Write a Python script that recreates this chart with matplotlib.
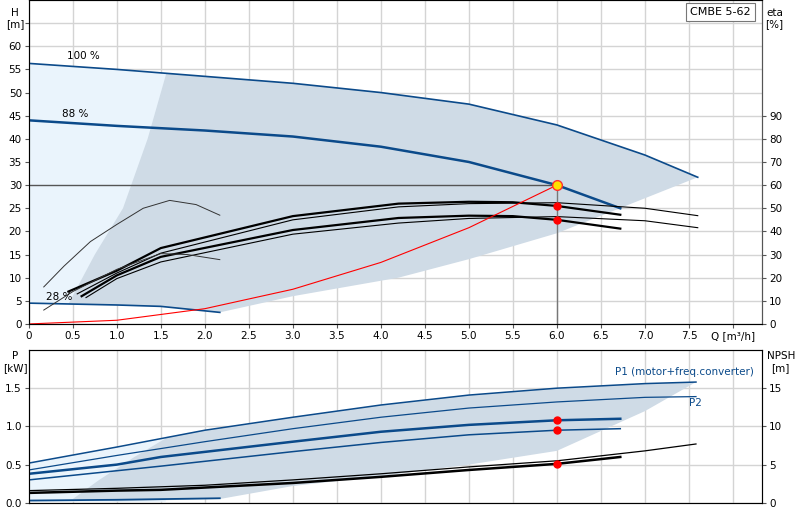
import matplotlib
matplotlib.use('Agg')
import matplotlib.pyplot as plt
import numpy as np

# ---- data ----
q100 = [0, 1, 2, 3, 4, 5, 6, 7, 7.6]
h100 = [56.3, 55.0, 53.5, 52.0, 50.0, 47.5, 43.0, 36.5, 31.7]
q88 = [0, 1, 2, 3, 4, 5, 6, 6.72]
h88 = [44.0, 42.8, 41.8, 40.5, 38.3, 35.0, 30.0, 25.0]
q28 = [0, 0.5, 1, 1.5, 2.17]
h28 = [4.5, 4.3, 4.1, 3.8, 2.5]

# operating-range boundaries (H)
left_q = [0.45, 0.75, 1.07, 1.35, 1.56]
left_h = [4.3, 15, 25, 40, 54]
low_q = [2.17, 3, 4.2, 5, 6, 7.6]
low_h = [2.5, 6, 10, 14, 19.6, 31.7]

# efficiency curves (eta/2 plotted on H axis)
eff_q = [[0.45, 1, 1.5, 3, 4.2, 5, 5.5, 6, 6.72],
         [0.55, 1, 1.5, 3, 4.2, 5, 6, 7, 7.6],
         [0.6, 1, 1.5, 3, 4.2, 5, 5.5, 6, 6.72],
         [0.65, 1, 1.5, 3, 4.2, 5, 6, 7, 7.6]]
eff_h = [[7, 11.5, 16.4, 23.3, 26.0, 26.4, 26.3, 25.5, 23.6],
         [6.5, 11, 15.3, 22.5, 25.3, 26.0, 26.2, 25.0, 23.4],
         [6, 10.5, 14.5, 20.3, 22.9, 23.4, 23.3, 22.5, 20.6],
         [5.7, 9.8, 13.4, 19.4, 21.8, 22.8, 23.2, 22.3, 20.8]]
eff_lw = [1.6, 0.8, 1.6, 0.8]
arc_big_q = [0.17, 0.4, 0.7, 1.0, 1.3, 1.6, 1.9, 2.17]
arc_big_h = [8, 12.5, 17.8, 21.5, 25, 26.7, 25.8, 23.5]
arc_small_q = [0.17, 0.5, 1.0, 1.5, 1.8, 2.17]
arc_small_h = [3, 7, 11.8, 15.2, 15.0, 13.9]

sys_q = [0, 1, 2, 3, 4, 5, 6]
sys_h = [0, 0.8, 3.3, 7.5, 13.3, 20.8, 30.0]
duty_q, duty_h = 6.0, 30.0
duty_eta_h = [25.5, 22.5]

# power curves
qp = [0, 1, 2, 3, 4, 5, 6, 7, 7.58]
p1_100 = [0.52, 0.73, 0.95, 1.12, 1.28, 1.41, 1.50, 1.56, 1.58]
p2_100 = [0.43, 0.62, 0.80, 0.97, 1.12, 1.24, 1.32, 1.38, 1.39]
qp88 = [0, 1, 1.5, 3, 4, 5, 6, 6.72]
p1_88 = [0.38, 0.50, 0.60, 0.80, 0.93, 1.02, 1.08, 1.10]
p2_88 = [0.30, 0.42, 0.48, 0.67, 0.79, 0.89, 0.95, 0.97]
qp28 = [0, 1, 2.17]
p_28 = [0.03, 0.04, 0.06]
npsh_thin = [0.16, 0.19, 0.23, 0.30, 0.38, 0.47, 0.55, 0.68, 0.77]
npsh_thick = [0.13, 0.16, 0.17, 0.26, 0.34, 0.43, 0.51, 0.60]
pl_q = [7.58, 7.0, 6, 5, 4, 3, 2.17, 1, 0.5, 0.8, 1.2, 1.55]
pl_p = [1.58, 1.2, 0.68, 0.5, 0.35, 0.22, 0.05, 0.02, 0.05, 0.3, 0.6, 0.84]
duty_p = [1.08, 0.95, 0.51]

blue = '#0b4a8a'
dark_fill = '#cfdbe6'
light_fill = '#eaf4fc'
grid_c = '#d4d4d4'

plt.rcParams['font.family'] = 'DejaVu Sans'
plt.rcParams['font.size'] = 7.5
fig = plt.figure(figsize=(8, 5.2), dpi=100)
ax = fig.add_axes([0.036, 0.377, 0.9165, 0.623])
bx = fig.add_axes([0.036, 0.033, 0.9165, 0.294])

xmax = 8.33
qq = np.linspace(0, 7.6, 200)
for a in (ax, bx):
    a.set_xlim(0, xmax)
    a.set_xticks(np.arange(0, 8.01, 0.5))
    a.grid(color=grid_c, lw=1)
    a.set_axisbelow(True)
    for s in a.spines.values():
        s.set_color('#555555')
    a.tick_params(length=3, color='#555555', pad=2)

# ---- top: head ----
ax.set_ylim(0, 70)
ax.set_yticks(np.arange(0, 66, 5))
ax.set_yticklabels([str(v) if v <= 60 else '' for v in range(0, 66, 5)])
ax.set_xticklabels([f'{v:.1f}' if v not in (0, 8) else ('0' if v == 0 else 'Q [m³/h]')
                    for v in np.arange(0, 8.01, 0.5)])

h100i = np.interp(qq, q100, h100)
# light region left of the operating range
lq = np.linspace(0, 1.56, 80)
lbound = np.interp(lq, [0] + left_q, [4.5] + left_h)
ax.fill_between(lq, np.interp(lq, q28, h28), np.interp(lq, q100, h100), color=light_fill, lw=0)
# dark operating region polygon
top_q = np.linspace(1.56, 7.6, 100)
poly_q = list(left_q) + list(top_q) + low_q[::-1] + q28[::-1][:2] 
poly_h = list(left_h) + list(np.interp(top_q, q100, h100)) + low_h[::-1] + h28[::-1][:2]
ax.fill(poly_q[:-2] + [1.5, 1.0, 0.45], poly_h[:-2] + [3.8, 4.1, 4.3], color=dark_fill, lw=0)

ax.plot(q100, h100, color=blue, lw=1.2)
ax.plot(q88, h88, color=blue, lw=1.8)
ax.plot(q28, h28, color=blue, lw=1.2)
for eq, eh, lw in zip(eff_q, eff_h, eff_lw):
    ax.plot(eq, eh, color='black', lw=lw)
ax.plot(arc_big_q, arc_big_h, color='#333333', lw=0.7)
ax.plot(arc_small_q, arc_small_h, color='#333333', lw=0.7)
ax.plot(sys_q, sys_h, color='red', lw=0.8)
ax.plot([0, duty_q], [duty_h, duty_h], color='#555555', lw=1)
ax.plot([duty_q, duty_q], [0, duty_h], color='#777777', lw=1)
ax.plot([duty_q] * 2, duty_eta_h, 'o', color='red', ms=5)
ax.plot(duty_q, duty_h, 'o', mfc='#ffe000', mec='#ff3030', ms=7)

ax.text(0.43, 57.3, '100 %')
ax.text(0.38, 44.8, '88 %')
ax.text(0.2, 5.2, '28 %')
ax.text(8.2, 68.5, 'CMBE 5-62', ha='right', va='top', fontsize=8,
        bbox=dict(fc='white', ec='#777777', lw=0.8, pad=3))

ax2 = ax.twinx()
ax2.set_ylim(0, 140)
ax2.set_yticks(np.arange(0, 91, 10))
ax2.tick_params(length=3, color='#555555', pad=2)
ax2.spines['right'].set_color('#555555')
fig.text(0.019, 0.985, 'H\n[m]', ha='center', va='top', fontsize=7.5, linespacing=1.2)
fig.text(0.968, 0.985, 'eta\n[%]', ha='center', va='top', fontsize=7.5, linespacing=1.2)

# ---- bottom: power / NPSH ----
bx.set_ylim(0, 2.0)
bx.set_yticks([0, 0.5, 1.0, 1.5])
bx.set_yticklabels(['0.0', '0.5', '1.0', '1.5'])
bx.set_xticklabels([])
bx.tick_params(axis='x', length=0)

lq2 = np.linspace(0, 1.55, 60)
bx.fill_between(lq2, 0.02, np.interp(lq2, qp, p1_100), color=light_fill, lw=0)
tq2 = np.linspace(1.55, 7.58, 80)
bx.fill(list(tq2) + pl_q[1:], list(np.interp(tq2, qp, p1_100)) + pl_p[1:], color=dark_fill, lw=0)

bx.plot(qp, p1_100, color=blue, lw=1.1)
bx.plot(qp, p2_100, color=blue, lw=0.9)
bx.plot(qp88, p1_88, color=blue, lw=1.8)
bx.plot(qp88, p2_88, color=blue, lw=1.1)
bx.plot(qp28, p_28, color=blue, lw=1.3)
bx.plot(qp, npsh_thin, color='black', lw=0.9)
bx.plot(qp88, npsh_thick, color='black', lw=1.8)
bx.plot([duty_q] * 3, duty_p, 'o', color='red', ms=5)
bx.text(8.24, 1.71, 'P1 (motor+freq.converter)', ha='right', va='center', color=blue)
bx.text(7.5, 1.3, 'P2', ha='left', va='center', color=blue)

bx2 = bx.twinx()
bx2.set_ylim(0, 20)
bx2.set_yticks([0, 5, 10, 15])
bx2.tick_params(length=3, color='#555555', pad=2)
fig.text(0.019, 0.325, 'P\n[kW]', ha='center', va='top', fontsize=7.5, linespacing=1.2)
fig.text(0.976, 0.325, 'NPSH\n[m]', ha='center', va='top', fontsize=7.5, linespacing=1.2)

fig.savefig('out.png', dpi=100)
